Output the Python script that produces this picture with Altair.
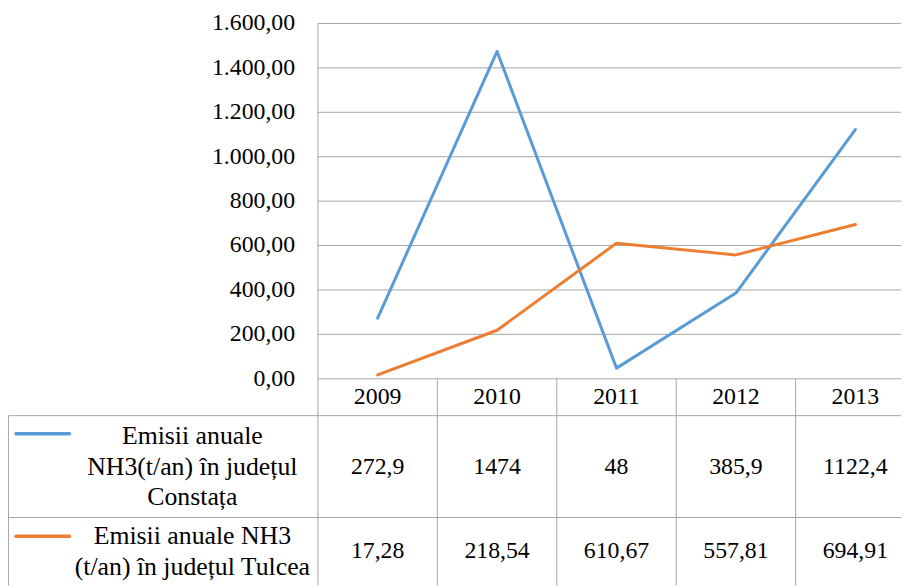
import altair as alt
import pandas as pd

# ---------------- data ----------------
years = ["2009", "2010", "2011", "2012", "2013"]
constanta = [272.9, 1474, 48, 385.9, 1122.4]
tulcea = [17.28, 218.54, 610.67, 557.81, 694.91]
series_names = ["Constata", "Tulcea"]
series_label_lines = [
    ["Emisii anuale", "NH3(t/an) în județul", "Constața"],
    ["Emisii anuale NH3", "(t/an) în județul Tulcea"],
]
series_colors = ["#5B9BD5", "#ED7D31"]
y_ticks = [0, 200, 400, 600, 800, 1000, 1200, 1400, 1600]
y_tick_labels = ["0,00", "200,00", "400,00", "600,00", "800,00",
                 "1.000,00", "1.200,00", "1.400,00", "1.600,00"]

# ---------------- layout (pixels) ----------------
W, H, PAD_TOP = 901, 567, 13
LEFT_OFF, COL_W = 312.7, 120.5          # start of first year column, column width
X_MIN = -LEFT_OFF / COL_W
X_MAX = (W - LEFT_OFF) / COL_W
X_LEFT_BORDER = X_MIN + 0.5 / COL_W
ZERO_Y = 358.5                            # emission 0 / table top
YEAR_BOT = 395.7
ROW1_BOT = 498.5
ROW2_BOT = 567.0
LINE_H = 30.5
LABEL_X = (194 - 8 - LEFT_OFF) / COL_W
SW_X0 = (16 - 8 - LEFT_OFF) / COL_W
SW_X1 = (70 - 8 - LEFT_OFF) / COL_W
SW_Y = [414.0, 517.3]
GRID = "#a6a6a6"
FONT = "Liberation Serif"

xs = alt.Scale(domain=[X_MIN, X_MAX], nice=False, zero=False)
ys_em = alt.Scale(domain=[0, 1600], range=[ZERO_Y, 0], nice=False, zero=False)
ys_tb = alt.Scale(domain=[0, H], range=[0, H], nice=False, zero=False)
col_scale = alt.Scale(domain=series_names, range=series_colors)

# ---------------- tables ----------------
grid_df = pd.DataFrame({"v": y_ticks, "lab": y_tick_labels, "x0": 0.0, "x1": X_MAX})

line_rows = []
for i, y in enumerate(years):
    line_rows.append({"x": i + 0.5, "v": constanta[i], "s": series_names[0]})
    line_rows.append({"x": i + 0.5, "v": tulcea[i], "s": series_names[1]})
line_df = pd.DataFrame(line_rows)

def fmt(v):
    return f"{v:g}".replace(".", ",")

cell_rows = []
for i, y in enumerate(years):
    cell_rows.append({"x": i + 0.5, "y": (ZERO_Y + YEAR_BOT) / 2, "t": y})
    cell_rows.append({"x": i + 0.5, "y": (YEAR_BOT + ROW1_BOT) / 2, "t": fmt(constanta[i])})
    cell_rows.append({"x": i + 0.5, "y": (ROW1_BOT + ROW2_BOT) / 2, "t": fmt(tulcea[i])})
cell_df = pd.DataFrame(cell_rows)

row_centers = [(YEAR_BOT + ROW1_BOT) / 2, (ROW1_BOT + ROW2_BOT) / 2]
label_rows = []
for lines_, c in zip(series_label_lines, row_centers):
    n = len(lines_)
    for k, t in enumerate(lines_):
        label_rows.append({"x": LABEL_X, "y": c + (k - (n - 1) / 2) * LINE_H, "t": t})
label_df = pd.DataFrame(label_rows)

swatch_df = pd.DataFrame({"x0": [SW_X0] * 2, "x1": [SW_X1] * 2, "y": SW_Y, "s": series_names})

hlines_df = pd.DataFrame({
    "x0": [X_LEFT_BORDER, X_LEFT_BORDER],
    "x1": [X_MAX, X_MAX],
    "y": [YEAR_BOT, ROW1_BOT],
})
vlines_df = pd.DataFrame({
    "x": [0, 1, 2, 3, 4, X_LEFT_BORDER],
    "y0": [0, ZERO_Y, ZERO_Y, ZERO_Y, ZERO_Y, YEAR_BOT],
    "y1": [ROW2_BOT] * 6,
})

# ---------------- layers ----------------
grid = alt.Chart(grid_df).mark_rule(color=GRID, strokeWidth=1).encode(
    x=alt.X("x0:Q", scale=xs, axis=None), x2="x1:Q",
    y=alt.Y("v:Q", scale=ys_em, axis=None),
)
ylabels = alt.Chart(grid_df).mark_text(
    align="right", baseline="middle", dx=-23, font=FONT, fontSize=24, color="#000000"
).encode(
    x=alt.X("x0:Q", scale=xs, axis=None),
    y=alt.Y("v:Q", scale=ys_em, axis=None),
    text="lab:N",
)
hlines = alt.Chart(hlines_df).mark_rule(color=GRID, strokeWidth=1).encode(
    x=alt.X("x0:Q", scale=xs, axis=None), x2="x1:Q",
    y=alt.Y("y:Q", scale=ys_tb, axis=None),
)
vlines = alt.Chart(vlines_df).mark_rule(color=GRID, strokeWidth=1).encode(
    x=alt.X("x:Q", scale=xs, axis=None),
    y=alt.Y("y0:Q", scale=ys_tb, axis=None), y2="y1:Q",
)
lines = alt.Chart(line_df).mark_line(strokeWidth=3, strokeCap="round", strokeJoin="round").encode(
    x=alt.X("x:Q", scale=xs, axis=None),
    y=alt.Y("v:Q", scale=ys_em, axis=None),
    color=alt.Color("s:N", scale=col_scale, legend=None),
)
cells = alt.Chart(cell_df).mark_text(
    align="center", baseline="middle", font=FONT, fontSize=24, color="#000000"
).encode(
    x=alt.X("x:Q", scale=xs, axis=None),
    y=alt.Y("y:Q", scale=ys_tb, axis=None),
    text="t:N",
)
labels = alt.Chart(label_df).mark_text(
    align="center", baseline="middle", font=FONT, fontSize=26, color="#000000",
).encode(
    x=alt.X("x:Q", scale=xs, axis=None),
    y=alt.Y("y:Q", scale=ys_tb, axis=None),
    text="t:N",
)
swatches = alt.Chart(swatch_df).mark_rule(strokeWidth=3.5, strokeCap="round").encode(
    x=alt.X("x0:Q", scale=xs, axis=None), x2="x1:Q",
    y=alt.Y("y:Q", scale=ys_tb, axis=None),
    color=alt.Color("s:N", scale=col_scale, legend=None),
)

chart = alt.layer(grid, hlines, vlines, ylabels, cells, labels, swatches, lines).resolve_scale(
    y="independent"
).properties(
    width=W, height=H,
    autosize=alt.AutoSizeParams(type="none"),
    padding={"left": 0, "top": PAD_TOP, "right": 0, "bottom": 0},
).configure(font=FONT).configure_text(font=FONT).configure_view(stroke=None)

chart.save("out.html", embed_options={"renderer": "svg", "actions": False})
